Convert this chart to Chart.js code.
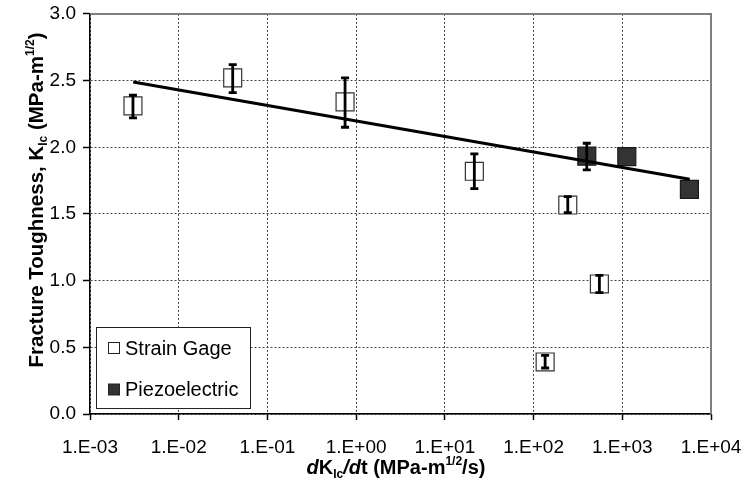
<!DOCTYPE html>
<html>
<head>
<meta charset="utf-8">
<script src="https://cdn.jsdelivr.net/npm/chart.js@4/dist/chart.umd.min.js"></script>
<style>
html,body{margin:0;padding:0;background:#fff;}
#wrap{width:745px;height:501px;position:relative;}
</style>
</head>
<body>
<div id="wrap"><canvas id="c" width="745" height="501"></canvas></div>
<script>
// ---- data ----
const strainX  = [0.00305, 0.0406, 0.75, 21.5, 243, 552, 135];
const strainY  = [2.31, 2.52, 2.34, 1.82, 1.567, 0.975, 0.39];
const strainLo = [2.22, 2.41, 2.15, 1.69, 1.51, 0.91, 0.345];
const strainHi = [2.39, 2.62, 2.52, 1.95, 1.63, 1.04, 0.44];

const piezoX  = [398, 1125, 5710];
const piezoY  = [1.933, 1.93, 1.684];
const piezoLo = [1.83, null, null];
const piezoHi = [2.03, null, null];

const trendX = [0.00307, 5760];
const trendY = [2.49, 1.76];

const xTickValues = [1e-3, 1e-2, 1e-1, 1e0, 1e1, 1e2, 1e3, 1e4];
const xTickLabels = ['1.E-03','1.E-02','1.E-01','1.E+00','1.E+01','1.E+02','1.E+03','1.E+04'];
const yTickLabels = ['0.0','0.5','1.0','1.5','2.0','2.5','3.0'];

const seriesNames = ['Strain Gage', 'Piezoelectric'];

// ---- helpers ----
const FONT = "'Liberation Sans', Arial, sans-serif";
const toPts = (xs, ys) => xs.map((x, i) => ({x: x, y: ys[i]}));

function drawRich(ctx, parts, x, y, align) {
  let total = 0;
  parts.forEach(p => {
    ctx.font = `${p.st || 'normal'} ${p.w || 'bold'} ${p.s}px ${FONT}`;
    p._w = ctx.measureText(p.t).width;
    total += p._w;
  });
  let cx = align === 'center' ? x - total / 2 : x;
  parts.forEach(p => {
    ctx.font = `${p.st || 'normal'} ${p.w || 'bold'} ${p.s}px ${FONT}`;
    ctx.fillText(p.t, cx, y + (p.dy || 0));
    cx += p._w;
  });
}

const errorBarPlugin = {
  id: 'errorBars',
  afterDatasetsDraw(chart) {
    const ctx = chart.ctx;
    const xs = chart.scales.x, ys = chart.scales.y;
    const sets = [[strainX, strainLo, strainHi], [piezoX, piezoLo, piezoHi]];
    ctx.save();
    ctx.strokeStyle = '#000';
    ctx.lineWidth = 2.8;
    ctx.lineCap = 'butt';
    sets.forEach(([X, L, H]) => {
      X.forEach((xv, i) => {
        if (L[i] == null || H[i] == null) return;
        const px = xs.getPixelForValue(xv);
        const py1 = ys.getPixelForValue(L[i]);
        const py2 = ys.getPixelForValue(H[i]);
        ctx.beginPath();
        ctx.moveTo(px, py1); ctx.lineTo(px, py2);
        ctx.moveTo(px - 4, py1); ctx.lineTo(px + 4, py1);
        ctx.moveTo(px - 4, py2); ctx.lineTo(px + 4, py2);
        ctx.stroke();
      });
    });
    ctx.restore();
  }
};

const decorPlugin = {
  id: 'decor',
  afterDraw(chart) {
    const ctx = chart.ctx;
    const a = chart.chartArea;
    ctx.save();
    ctx.strokeStyle = '#7f7f7f';
    ctx.lineWidth = 2;
    ctx.beginPath();
    ctx.moveTo(a.left, a.top); ctx.lineTo(a.right, a.top); ctx.lineTo(a.right, a.bottom);
    ctx.stroke();

    // legend
    const lx = 96, ly = 327, lw = 154, lh = 81;
    ctx.fillStyle = '#fff';
    ctx.fillRect(lx, ly, lw, lh);
    ctx.strokeStyle = '#222';
    ctx.lineWidth = 1;
    ctx.strokeRect(lx + 0.5, ly + 0.5, lw, lh);
    const ds = chart.data.datasets;
    const rows = [[ds[0], 348], [ds[1], 389.5]];
    ctx.textBaseline = 'middle';
    ctx.textAlign = 'left';
    ctx.font = `20px ${FONT}`;
    rows.forEach(([d, cy]) => {
      ctx.fillStyle = d.backgroundColor;
      ctx.fillRect(108.5, cy - 5.5, 11, 11);
      ctx.strokeStyle = '#222';
      ctx.strokeRect(108.5, cy - 5.5, 11, 11);
      ctx.fillStyle = '#000';
      ctx.fillText(d.label, 125, cy + 1);
    });

    // axis titles
    ctx.fillStyle = '#000';
    ctx.textBaseline = 'alphabetic';
    drawRich(ctx, [
      {t: 'd', st: 'italic', s: 20},
      {t: 'K', s: 20},
      {t: 'Ic', s: 12, dy: 4},
      {t: '/', st: 'italic', s: 20},
      {t: 'd', st: 'italic', s: 20},
      {t: 't (MPa-m', s: 20},
      {t: '1/2', s: 12, dy: -9},
      {t: '/s)', s: 20}
    ], 396, 474, 'center');
    ctx.save();
    ctx.translate(43, 200);
    ctx.rotate(-Math.PI / 2);
    drawRich(ctx, [
      {t: 'Fracture Toughness, K', s: 20.5},
      {t: 'Ic', s: 12, dy: 4},
      {t: ' (MPa-m', s: 20.5},
      {t: '1/2', s: 12, dy: -9},
      {t: ')', s: 20.5}
    ], 0, 0, 'center');
    ctx.restore();
    ctx.restore();
  }
};

new Chart(document.getElementById('c'), {
  type: 'scatter',
  data: {
    datasets: [
      {
        label: seriesNames[0],
        data: toPts(strainX, strainY),
        pointStyle: 'rect',
        pointRadius: 12.7,
        backgroundColor: '#ffffff',
        borderColor: '#333333',
        pointBorderWidth: 1.2,
        order: 2
      },
      {
        label: seriesNames[1],
        data: toPts(piezoX, piezoY),
        pointStyle: 'rect',
        pointRadius: 12.7,
        backgroundColor: '#333333',
        borderColor: '#1a1a1a',
        pointBorderWidth: 1.2,
        order: 1
      },
      {
        label: 'trend',
        data: toPts(trendX, trendY),
        showLine: true,
        pointRadius: 0,
        borderColor: '#000',
        borderWidth: 3,
        fill: false,
        order: 0
      }
    ]
  },
  options: {
    responsive: false,
    animation: false,
    events: [],
    layout: {padding: {top: 12, right: 34, left: 0, bottom: 0}},
    plugins: {legend: {display: false}, tooltip: {enabled: false}},
    scales: {
      x: {
        type: 'logarithmic',
        min: 1e-3, max: 1e4,
        afterBuildTicks: s => { s.ticks = xTickValues.map(v => ({value: v})); },
        afterFit: s => { s.height = 87; s.paddingLeft = 0; s.paddingRight = 0; },
        ticks: {
          autoSkip: false, maxRotation: 0,
          color: '#000', font: {family: FONT, size: 19}, padding: 16,
          callback: (v, i) => xTickLabels[i]
        },
        grid: {color: '#444', lineWidth: 1, tickLength: 6, tickColor: '#000', tickWidth: 1.5, tickBorderDash: []},
        border: {color: '#000', width: 1.5, dash: [2, 2]}
      },
      y: {
        min: 0, max: 3,
        afterBuildTicks: s => { s.ticks = yTickLabels.map(t => ({value: parseFloat(t)})); },
        afterFit: s => { s.width = 90; s.paddingTop = 0; s.paddingBottom = 0; },
        ticks: {
          color: '#000', font: {family: FONT, size: 19}, padding: 7,
          callback: (v, i) => yTickLabels[i]
        },
        grid: {color: '#444', lineWidth: 1, tickLength: 7, tickColor: '#000', tickWidth: 1.5, tickBorderDash: []},
        border: {color: '#000', width: 1.5, dash: [2, 2]}
      }
    }
  },
  plugins: [errorBarPlugin, decorPlugin]
});
</script>
</body>
</html>
